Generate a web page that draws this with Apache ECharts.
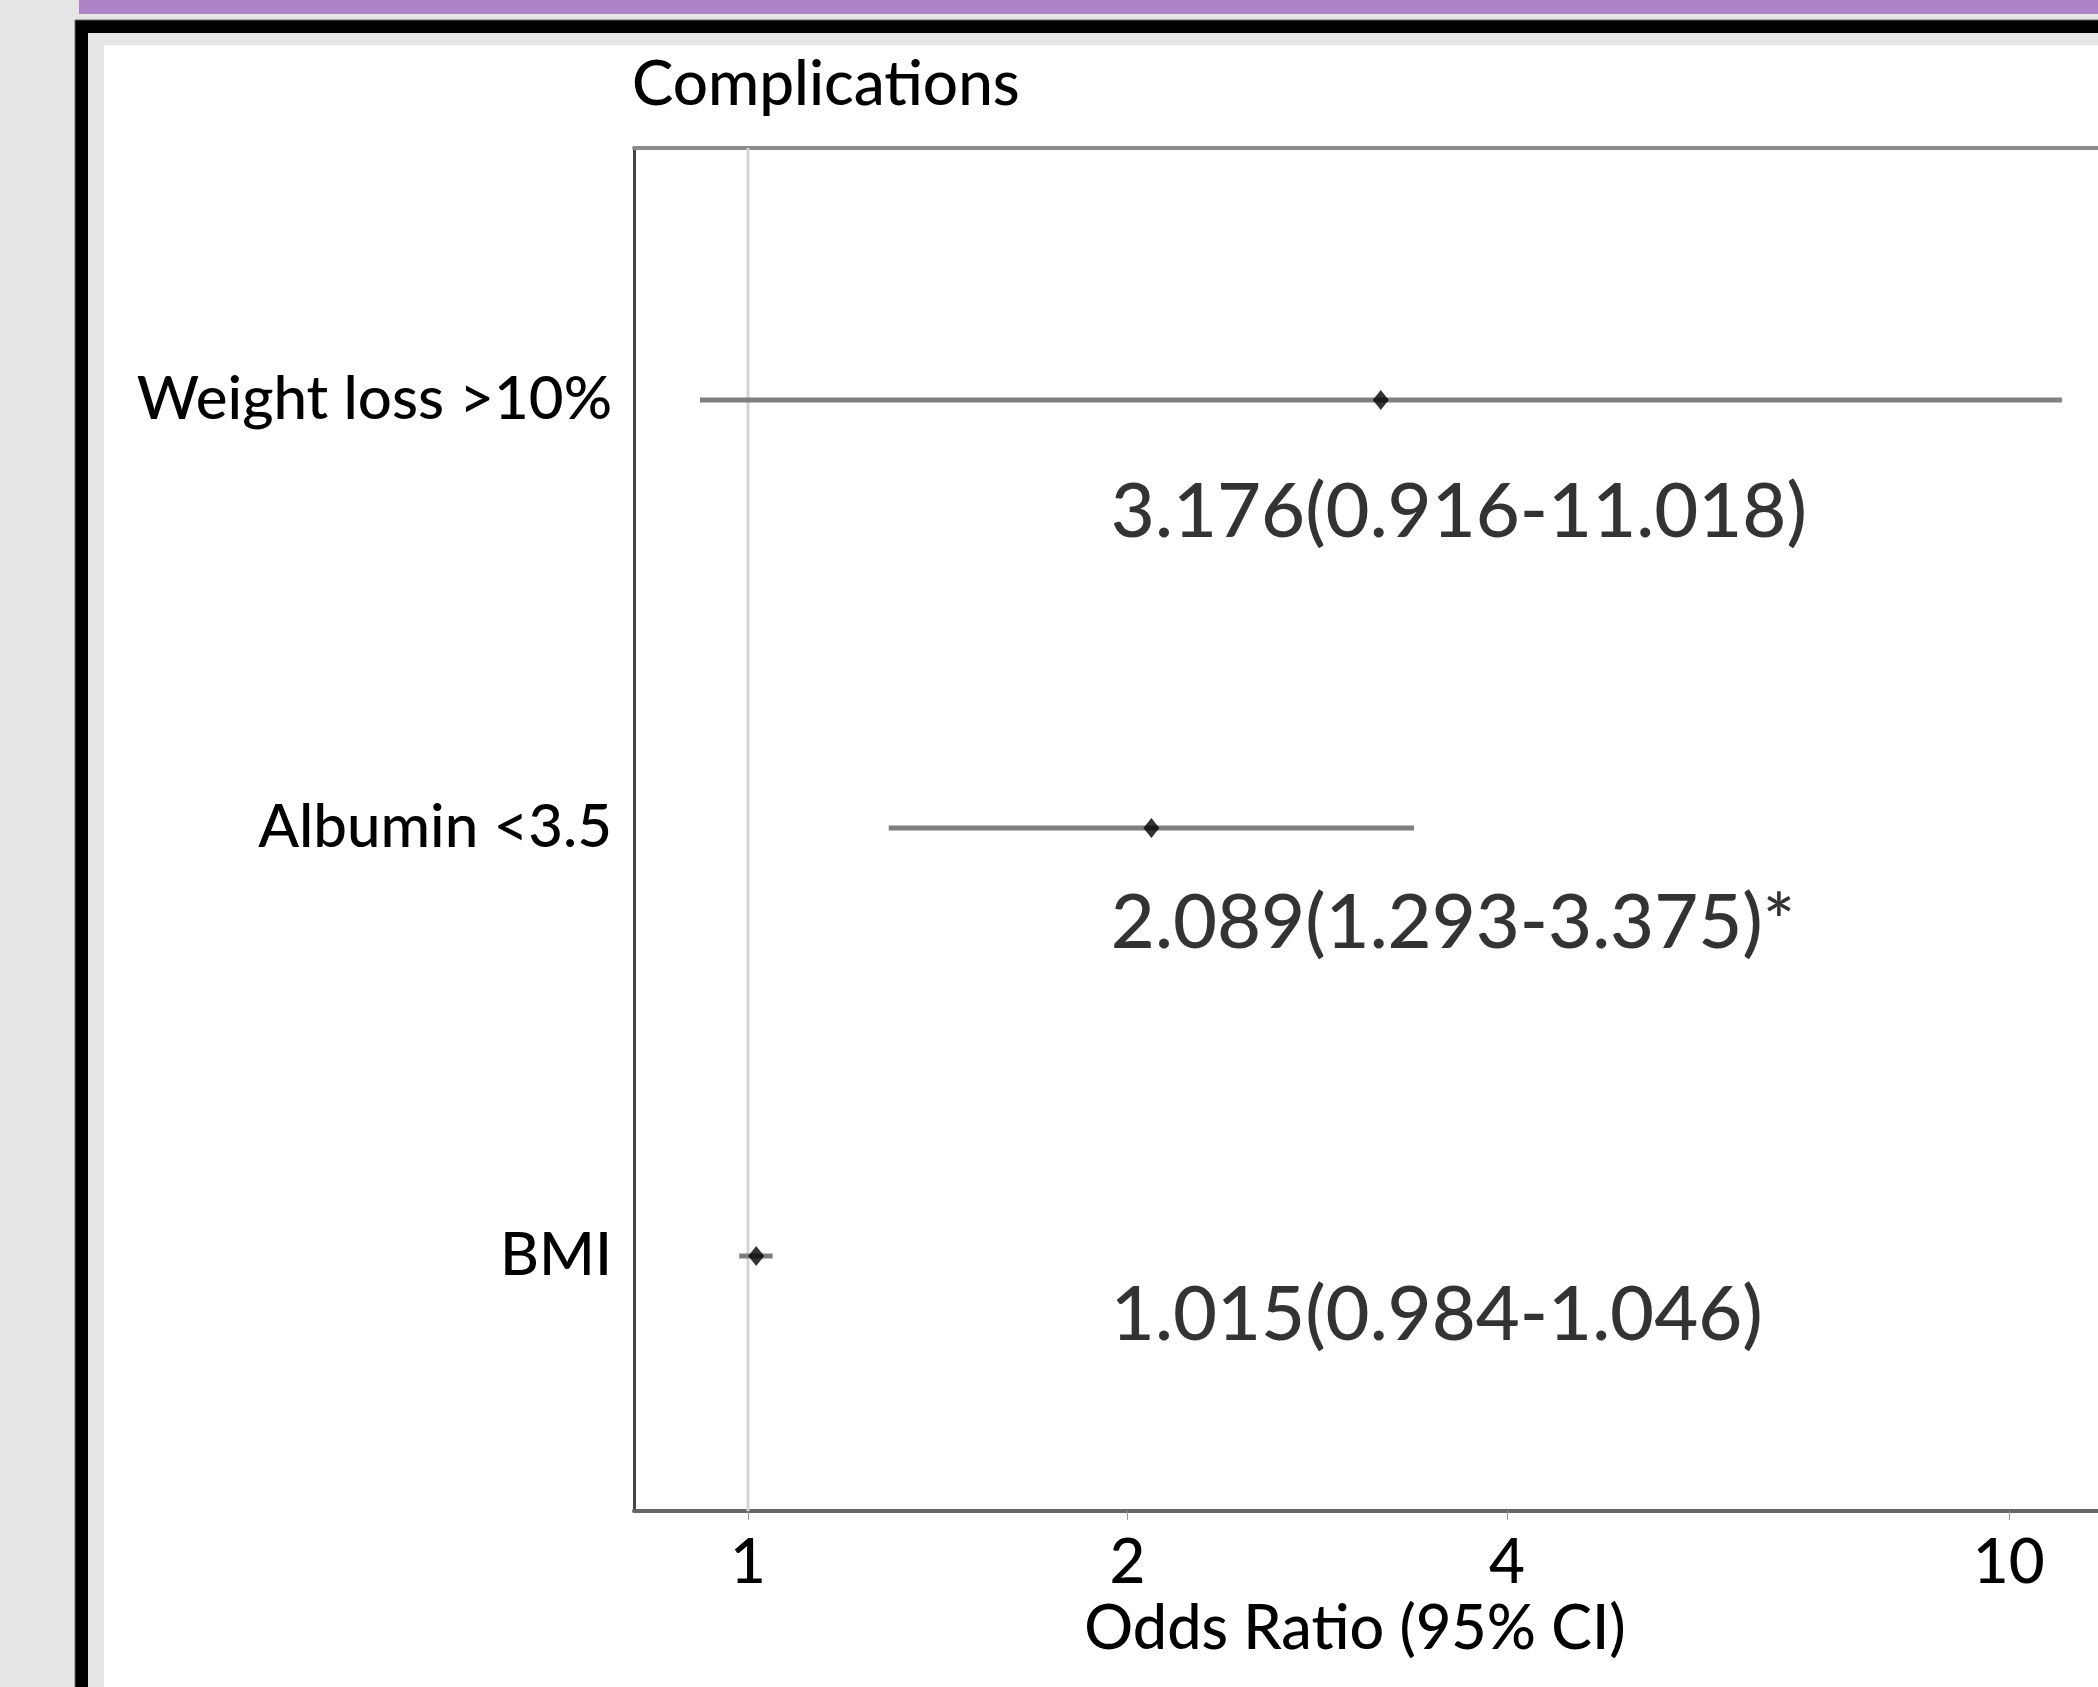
<!DOCTYPE html>
<html>
<head>
<meta charset="utf-8">
<script src="https://cdn.jsdelivr.net/npm/echarts@6/dist/echarts.min.js"></script>
<style>
html,body{margin:0;padding:0;background:#e6e6e6;}
#chart{width:2098px;height:1687px;}
</style>
</head>
<body>
<div id="chart"></div>
<script>
// ---- data ----
const TITLE = 'Complications';
const CATEGORIES = ['Weight loss >10%', 'Albumin <3.5', 'BMI'];   // top to bottom
const ROW_POS = [3, 2, 1];
const OR_VALUES = [3.176, 2.089, 1.015];
const CI_LOW = [0.916, 1.293, 0.984];
const CI_HIGH = [11.018, 3.375, 1.046];
const ANNOTATIONS = ['3.176(0.916-11.018)', '2.089(1.293-3.375)*', '1.015(0.984-1.046)'];
const X_TICKS = [1, 2, 4, 10];
const X_NAME = 'Odds Ratio (95% CI)';

// ---- layout constants ----
const X_MIN = 0.812, X_MAX = 11.77;
const Y_MIN = 0.404, Y_MAX = 3.589;
const ANNOT_X = 1.94;
const ANNOT_DY = [0.262, 0.222, 0.138];
const FONT = 'Lato, "Open Sans", sans-serif';
const WEIGHT = 500;
const INK = '#000000';

const ciData = [];
CATEGORIES.forEach((c, i) => {
  if (i > 0) ciData.push(['-', '-']);
  ciData.push([CI_LOW[i], ROW_POS[i]]);
  ciData.push([CI_HIGH[i], ROW_POS[i]]);
});
const pointData = OR_VALUES.map((v, i) => [v, ROW_POS[i]]);
const annotData = ANNOTATIONS.map((t, i) => ({ value: [ANNOT_X, ROW_POS[i] - ANNOT_DY[i]], text: t }));
const labelMap = {};
ROW_POS.forEach((p, i) => { labelMap[p] = CATEGORIES[i]; });

const chart = echarts.init(document.getElementById('chart'), null, { renderer: 'canvas' });
chart.setOption({
  backgroundColor: '#e6e6e6',
  animation: false,
  graphic: [
    { type: 'rect', z: -100, shape: { x: 79, y: 0, width: 2100, height: 14 }, style: { fill: '#ad84c6' } },
    { type: 'rect', z: -99, shape: { x: 75, y: 20, width: 2100, height: 1700 }, style: { fill: '#000', stroke: '#666', lineWidth: 1 } },
    { type: 'rect', z: -98, shape: { x: 88, y: 33, width: 2100, height: 1700 }, style: { fill: '#e6e6e6' } },
    { type: 'rect', z: -97, shape: { x: 104, y: 45, width: 2100, height: 1700 }, style: { fill: '#ffffff' } }
  ],
  title: {
    text: TITLE, left: 627, top: 49,
    textStyle: { fontFamily: FONT, fontSize: 62, fontWeight: WEIGHT, color: INK }
  },
  grid: { left: 634, right: 0, top: 148, bottom: 1687 - 1511 },
  xAxis: [{
    type: 'log', logBase: 10, min: X_MIN, max: X_MAX,
    position: 'bottom',
    name: X_NAME, nameLocation: 'middle', nameGap: 86,
    nameTextStyle: { fontFamily: FONT, fontSize: 61, fontWeight: WEIGHT, color: INK, padding: [0, 22, 0, 0] },
    axisLine: { show: true, lineStyle: { color: '#666', width: 4 } },
    axisTick: { show: true, length: 9, lineStyle: { color: '#999', width: 1 }, customValues: X_TICKS },
    axisLabel: { show: true, margin: 21, fontFamily: FONT, fontSize: 62, fontWeight: WEIGHT, color: INK, customValues: X_TICKS,
      formatter: v => String(Math.round(v)) },
    splitLine: { show: false }
  }, {
    type: 'log', logBase: 10, min: X_MIN, max: X_MAX,
    position: 'top',
    axisLine: { show: true, onZero: false, lineStyle: { color: '#8c8c8c', width: 4 } },
    axisTick: { show: false }, axisLabel: { show: false }, splitLine: { show: false }
  }],
  yAxis: {
    type: 'value', min: Y_MIN, max: Y_MAX,
    axisLine: { show: true, onZero: false, lineStyle: { color: '#444', width: 3 } },
    axisTick: { show: false },
    splitLine: { show: false },
    axisLabel: { show: true, margin: 22, fontFamily: FONT, fontSize: 60, fontWeight: WEIGHT, color: INK,
      customValues: ROW_POS, formatter: v => labelMap[Math.round(v)] || '' }
  },
  series: [
    {
      type: 'line', data: [[1, Y_MIN], [1, Y_MAX]], symbol: 'none', silent: true,
      lineStyle: { color: '#d4d4d4', width: 3 }, z: 1
    },
    {
      type: 'line', data: ciData, symbol: 'none', connectNulls: false, silent: true,
      lineStyle: { color: '#7f7f7f', width: 5 }, z: 2
    },
    {
      type: 'scatter', data: pointData, symbol: 'diamond', symbolSize: [16, 20],
      itemStyle: { color: '#000' }, z: 3
    },
    {
      type: 'scatter', data: annotData, symbolSize: 0, z: 4,
      label: { show: true, position: 'right', distance: 0, fontFamily: FONT, fontSize: 76, fontWeight: WEIGHT, color: INK,
        formatter: p => p.data.text }
    }
  ]
});
</script>
</body>
</html>
